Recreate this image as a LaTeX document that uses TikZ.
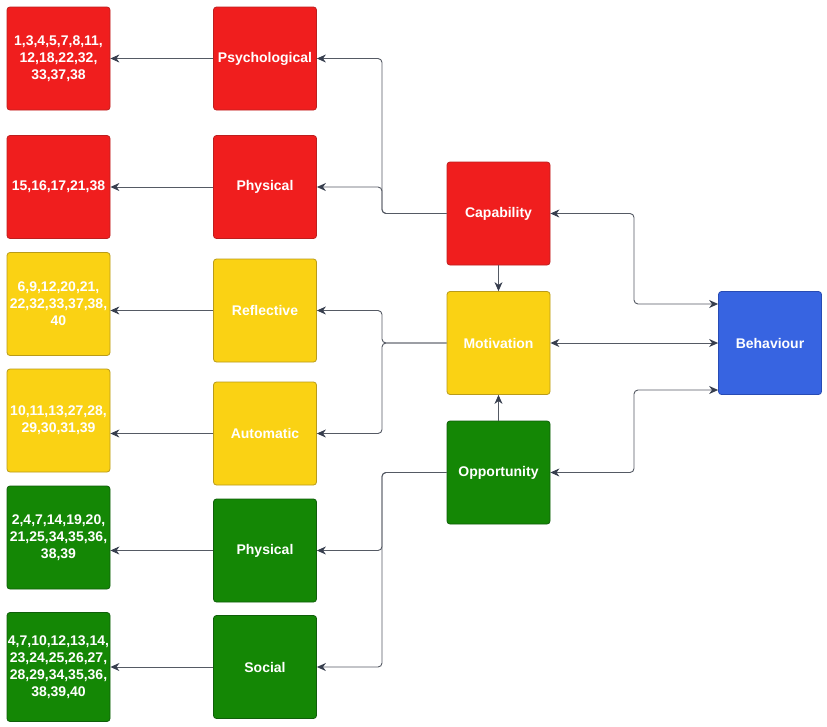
\documentclass[tikz,border=0pt]{standalone}
\usepackage{fontspec}
\setmainfont{Liberation Sans}
\usetikzlibrary{arrows.meta,calc}
\definecolor{cred}{RGB}{240,30,30}
\definecolor{credd}{RGB}{190,30,30}
\definecolor{cyel}{RGB}{250,210,20}
\definecolor{cyeld}{RGB}{185,155,25}
\definecolor{cgrn}{RGB}{20,135,5}
\definecolor{cgrnd}{RGB}{15,95,10}
\definecolor{cblu}{RGB}{55,100,225}
\definecolor{cblud}{RGB}{40,75,180}
\definecolor{cline}{RGB}{85,90,100}
\definecolor{ctip}{RGB}{55,62,78}
\tikzset{
  box/.style={draw, line width=0.8pt, rounded corners=3pt, minimum width=103pt, minimum height=103pt,
    inner sep=0pt, text=white, align=center, font=\fontsize{14}{17}\selectfont\bfseries},
  rbox/.style={box, fill=cred, draw=credd},
  ybox/.style={box, fill=cyel, draw=cyeld},
  gbox/.style={box, fill=cgrn, draw=cgrnd},
  bbox/.style={box, fill=cblu, draw=cblud},
  conn/.style={draw=cline, line width=0.9pt, rounded corners=4pt, -{Stealth[length=9pt,width=8pt,color=ctip]}},
  dconn/.style={draw=cline, line width=0.9pt, rounded corners=4pt, {Stealth[length=9pt,width=8pt,color=ctip]}-{Stealth[length=9pt,width=8pt,color=ctip]}}
}
\begin{document}
\begin{tikzpicture}[x=1pt,y=-1pt]
\path[fill=white] (0,0) rectangle (827,726);
\useasboundingbox (0,0) rectangle (827,726);
% left column
\node[rbox] (l1) at (58.5,58.5) {1,3,4,5,7,8,11,\\12,18,22,32,\\33,37,38};
\node[rbox] (l2) at (58.5,187) {15,16,17,21,38};
\node[ybox] (l3) at (58.5,304) {6,9,12,20,21,\\22,32,33,37,38,\\40};
\node[ybox] (l4) at (58.5,420.5) {10,11,13,27,28,\\29,30,31,39};
\node[gbox] (l5) at (58.5,537.5) {2,4,7,14,19,20,\\21,25,34,35,36,\\38,39};
\node[gbox, minimum height=109pt] (l6) at (58.5,667) {4,7,10,12,13,14,\\23,24,25,26,27,\\28,29,34,35,36,\\38,39,40};
% middle column
\node[rbox] (psy) at (265,58.5) {Psychological};
\node[rbox] (phy) at (265,187) {Physical};
\node[ybox] (ref) at (265,310.5) {Reflective};
\node[ybox] (aut) at (265,433.5) {Automatic};
\node[gbox] (gph) at (265,550.5) {Physical};
\node[gbox] (soc) at (265,667) {Social};
% right column
\node[rbox] (cap) at (498.5,213.5) {Capability};
\node[ybox] (mot) at (498.5,343) {Motivation};
\node[gbox] (opp) at (498.5,472.5) {Opportunity};
\node[bbox] (beh) at (770,343) {Behaviour};
% helper coordinates
\coordinate (bx) at (382,0);
\coordinate (vx) at (634,0);
\coordinate (bt) at ($(beh.west)+(0,-39)$);
\coordinate (bb) at ($(beh.west)+(0,47)$);
% middle to left
\draw[conn] (psy.west) -- (psy.west -| l1.east);
\draw[conn] (phy.west) -- (phy.west -| l2.east);
\draw[conn] (ref.west) -- (ref.west -| l3.east);
\draw[conn] (aut.west) -- (aut.west -| l4.east);
\draw[conn] (gph.west) -- (gph.west -| l5.east);
\draw[conn] (soc.west) -- (soc.west -| l6.east);
% right to middle
\draw[conn] (cap.west) -- (cap.west -| bx) |- (psy.east);
\draw[conn] (cap.west) -- (cap.west -| bx) |- (phy.east);
\draw[conn] (mot.west) -- (mot.west -| bx) |- (ref.east);
\draw[conn] (mot.west) -- (mot.west -| bx) |- (aut.east);
\draw[conn] (opp.west) -- (opp.west -| bx) |- (gph.east);
\draw[conn] (opp.west) -- (opp.west -| bx) |- (soc.east);
% vertical
\draw[conn] (cap.south) -- (mot.north);
\draw[conn] (opp.north) -- (mot.south);
% behaviour
\draw[dconn] (cap.east) -- (cap.east -| vx) |- (bt);
\draw[dconn] (mot.east) -- (beh.west);
\draw[dconn] (opp.east) -- (opp.east -| vx) |- (bb);
\end{tikzpicture}
\end{document}
